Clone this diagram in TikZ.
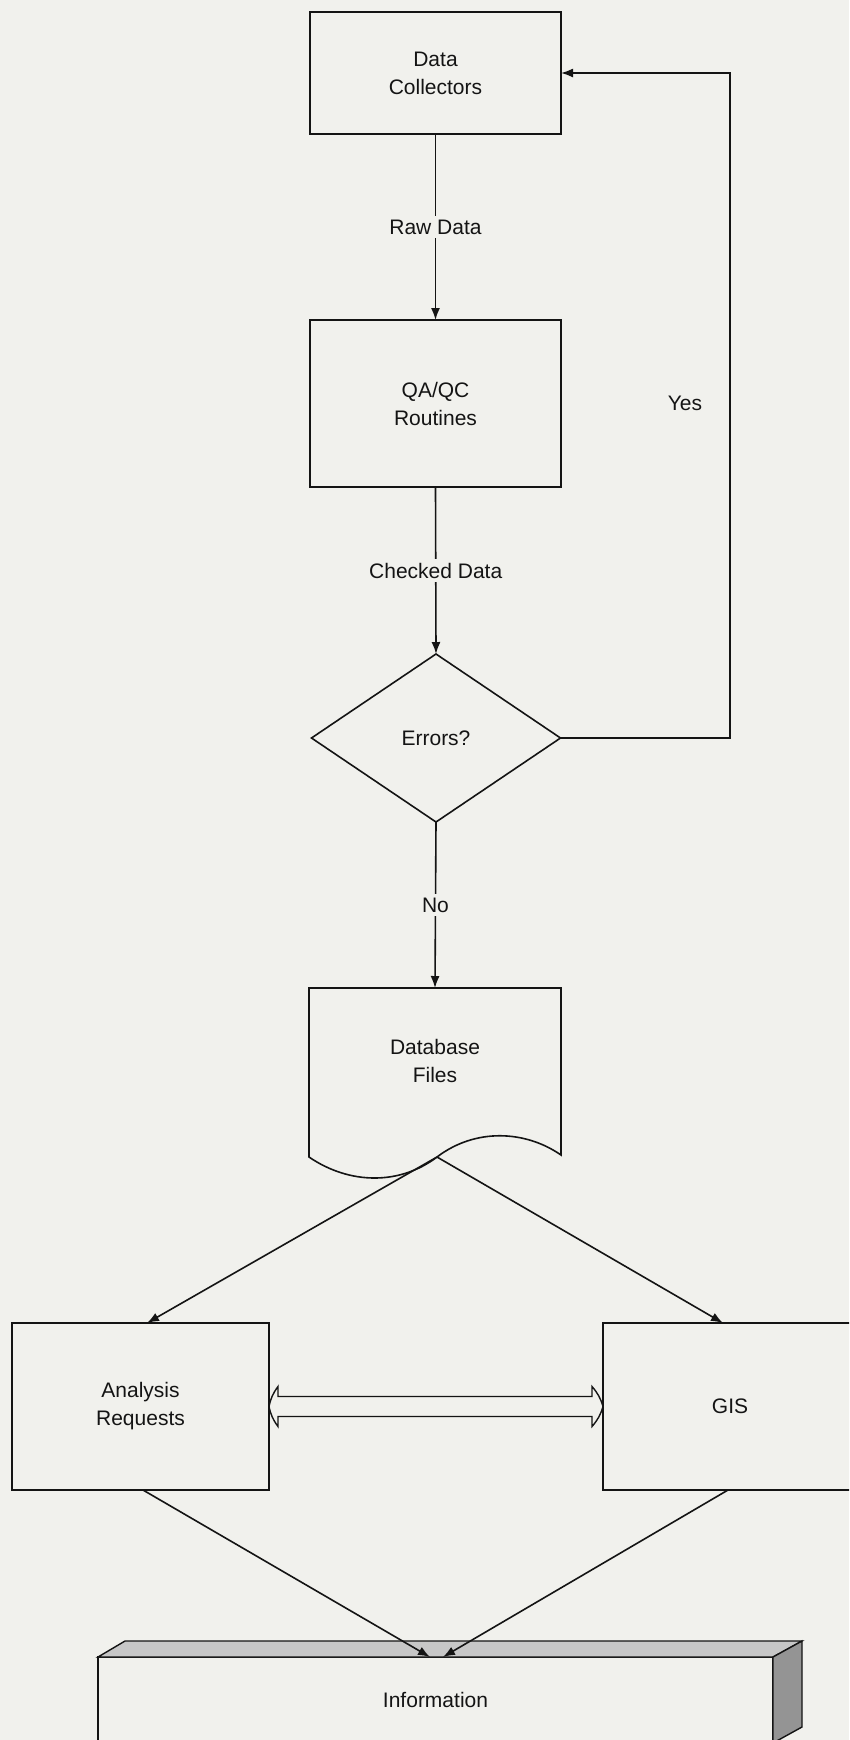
\documentclass[tikz,border=0pt]{standalone}
\usepackage{fontspec}
\setmainfont{Liberation Sans}
\usetikzlibrary{arrows.meta,shapes.geometric}
\definecolor{bg}{RGB}{241,241,237}
\definecolor{ink}{RGB}{20,20,20}
\begin{document}
\begin{tikzpicture}[x=1pt,y=-1pt,
  every node/.style={font=\fontsize{21}{28}\selectfont, align=center, inner sep=0pt, outer sep=0pt, text=ink},
  box/.style={draw=ink, line width=1.6pt, fill=bg, rectangle},
  arr/.style={draw=ink, line width=1.6pt, -{Latex[length=12pt,width=9pt]}},
  ln/.style={draw=ink, line width=1.6pt},
  lbl/.style={fill=bg, inner sep=4pt},
  topface/.style={draw=ink, line width=1.4pt, fill=black!22},
  sideface/.style={draw=ink, line width=1.4pt, fill=black!42}]
\fill[bg] (0,0) rectangle (849,1740);
\useasboundingbox (0,0) rectangle (849,1740);
\clip (0,0) rectangle (849,1740);

% nodes
\node[box, minimum width=251pt, minimum height=122pt] (dc) at (435.5,73) {Data\\Collectors};
\node[box, minimum width=251pt, minimum height=167pt] (qa) at (435.5,403.5) {QA/QC\\Routines};
\node[box, diamond, aspect=1.48, minimum width=249pt, minimum height=168pt] (dia) at (436,738) {Errors?};
\node[minimum width=252pt, minimum height=169pt] (doc) at (435,1072.5) {};
\draw[ln, fill=bg] (doc.south west)
   .. controls ([shift={(41,28)}]doc.south west) and ([shift={(91,28)}]doc.south west) .. ([shift={(128,0)}]doc.south west)
   .. controls ([shift={(166,-29)}]doc.south west) and ([shift={(216,-27)}]doc.south west) .. ([shift={(252,-2)}]doc.south west)
   -- (doc.north east) -- (doc.north west) -- cycle;
\coordinate (dsplit) at ([shift={(128,0)}]doc.south west);
\node (doctext) at (435,1061) {Database\\Files};
\node[box, minimum width=257pt, minimum height=167pt] (ana) at (140.5,1406.5) {Analysis\\Requests};
\node[box, minimum width=254pt, minimum height=167pt] (gis) at (730,1406.5) {GIS};
\node[box, minimum width=675pt, minimum height=86pt] (info) at (435.5,1700) {Information};
\filldraw[topface] (info.north west) -- ++(27,-16) -- ([shift={(29,-16)}]info.north east) -- (info.north east) -- cycle;
\filldraw[sideface] (info.north east) -- ([shift={(29,-16)}]info.north east) -- ([shift={(29,-16)}]info.south east) -- (info.south east) -- cycle;

% connectors
\draw[arr] (dc.south) -- node[lbl] (raw) {Raw Data} (qa.north);
\draw[arr] (qa.south) -- node[lbl] (chk) {Checked Data} (dia.north);
\draw[arr] (dia.south) -- node[lbl] (no) {No} (doc.north);
\coordinate (fb) at (730,738);
\draw[arr] (dia.east) -- (fb) |- (dc.east);
\node (yes) at (685,403) {Yes};
\draw[arr] (dsplit) -- ([xshift=6.5pt]ana.north);
\draw[arr] (dsplit) -- ([xshift=-7pt]gis.north);
\draw[arr] ([xshift=2.5pt]ana.south) -- ([xshift=-5.5pt]info.north);
\draw[arr] ([xshift=-2pt]gis.south) -- ([xshift=7.5pt]info.north);

% hollow double arrow
\draw[draw=ink, line width=1.4pt, fill=bg]
  (ana.east) to[bend left=12] ([shift={(9,-20)}]ana.east)
  -- ([shift={(9,-10)}]ana.east) -- ([shift={(-11,-10)}]gis.west)
  -- ([shift={(-11,-20)}]gis.west) to[bend left=12] (gis.west)
  to[bend left=12] ([shift={(-11,20)}]gis.west)
  -- ([shift={(-11,10)}]gis.west) -- ([shift={(9,10)}]ana.east)
  -- ([shift={(9,20)}]ana.east) to[bend left=12] (ana.east) -- cycle;
\end{tikzpicture}
\end{document}
